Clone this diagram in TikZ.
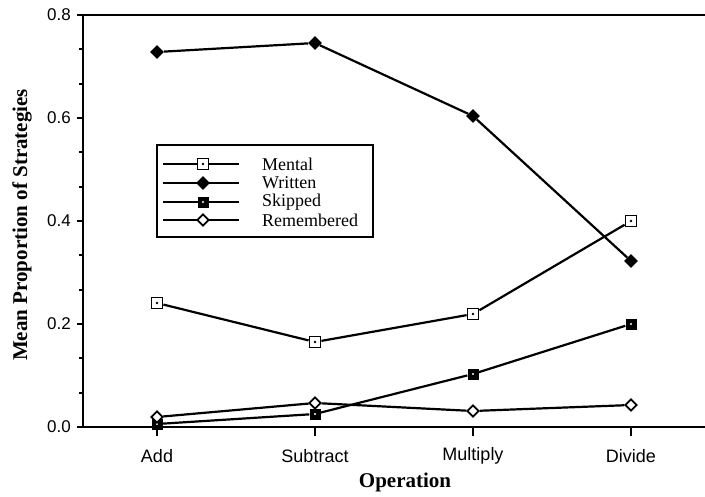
\documentclass[tikz,border=0pt]{standalone}
\usepackage{fontspec}
\newfontfamily\helv{Liberation Sans}
\newfontfamily\tms{Liberation Serif}
\usetikzlibrary{shapes.geometric}

\begin{document}
\begin{tikzpicture}[
    x=1pt, y=-1pt,
    every node/.style={inner sep=0pt},
    axis/.style={line width=2.4pt},
    series/.style={line width=2.2pt},
    ticklabel/.style={font=\helv\fontsize{17}{17}\selectfont, anchor=east},
    catlabel/.style={font=\helv\fontsize{18}{18}\selectfont},
    title/.style={font=\tms\bfseries\fontsize{21}{21}\selectfont},
    keytext/.style={font=\tms\fontsize{18}{18}\selectfont, anchor=west},
    mental/.style={draw, fill=white, line width=1.8pt, minimum size=11pt,
        path picture={\fill[black] (path picture bounding box.center) circle (1.3pt);}},
    written/.style={diamond, fill=black, minimum size=14pt},
    skipped/.style={fill=black, minimum size=11pt,
        path picture={\fill[white] (path picture bounding box.center) circle (1.2pt);}},
    remembered/.style={diamond, draw, fill=white, line width=1.7pt, minimum size=12pt}
]
\useasboundingbox (0,0) rectangle (705,496);

% frame and axes
\draw[axis] (705,15) -- (83,15) -- (83,427) -- (705,427);
\draw[axis] (77,15) -- (83,15) (77,118) -- (83,118) (77,221) -- (83,221)
    (77,324) -- (83,324) (77,427) -- (83,427);
\draw[line width=1.8pt] (79,49.3) -- (83,49.3) (79,83.7) -- (83,83.7)
    (79,152.3) -- (83,152.3) (79,186.7) -- (83,186.7)
    (79,255.3) -- (83,255.3) (79,289.7) -- (83,289.7)
    (79,358.3) -- (83,358.3) (79,392.7) -- (83,392.7);
\draw[line width=1.8pt] (157,427) -- (157,436) (315,427) -- (315,436)
    (473,427) -- (473,436) (631,427) -- (631,436);

\node[ticklabel] (y8) at (71,15) {0.8};
\node[ticklabel] (y6) at (71,118) {0.6};
\node[ticklabel] (y4) at (71,221) {0.4};
\node[ticklabel] (y2) at (71,324) {0.2};
\node[ticklabel] (y0) at (71,427) {0.0};

\node[catlabel] (add) at (157,456) {Add};
\node[catlabel] (sub) at (315,456) {Subtract};
\node[catlabel] (mul) at (473,456) {Multiply};
\node[catlabel] (div) at (631,456) {Divide};

\node[title] (xtitle) at (405,482) {Operation};
\node[title, rotate=90] (ytitle) at (22,225) {Mean Proportion of Strategies};

% data
\node[written] (wA) at (157,52) {};
\node[written] (wS) at (315,43) {};
\node[written] (wM) at (473,116) {};
\node[written] (wD) at (631,261) {};

\node[mental] (mA) at (157,303) {};
\node[mental] (mS) at (315,342) {};
\node[mental] (mM) at (473,314) {};
\node[mental] (mD) at (631,221) {};

\node[skipped] (sA) at (157,424) {};
\node[skipped] (sS) at (315,414) {};
\node[skipped] (sM) at (473,374) {};
\node[skipped] (sD) at (631,324) {};

\node[remembered] (rA) at (157,417) {};
\node[remembered] (rS) at (315,403) {};
\node[remembered] (rM) at (473,411) {};
\node[remembered] (rD) at (631,405) {};

\draw[series] (wA) -- (wS) -- (wM) -- (wD);
\draw[series] (mA) -- (mS) -- (mM) -- (mD);
\draw[series] (sA) -- (sS) -- (sM) -- (sD);
\draw[series] (rA) -- (rS) -- (rM) -- (rD);

% key
\draw[line width=1.5pt] (157,145) rectangle (373,237);
\draw[series] (163,164) -- (239,164) (163,183) -- (239,183)
    (163,202) -- (239,202) (163,220) -- (239,220);
\node[mental] (kM) at (203,164) {};
\node[written] (kW) at (203,183) {};
\node[skipped] (kS) at (203,202) {};
\node[remembered] (kR) at (203,220) {};
\node[keytext] (tM) at (262,164) {Mental};
\node[keytext] (tW) at (262,183) {Written};
\node[keytext] (tS) at (262,202) {Skipped};
\node[keytext] (tR) at (262,220) {Remembered};

\end{tikzpicture}
\end{document}
